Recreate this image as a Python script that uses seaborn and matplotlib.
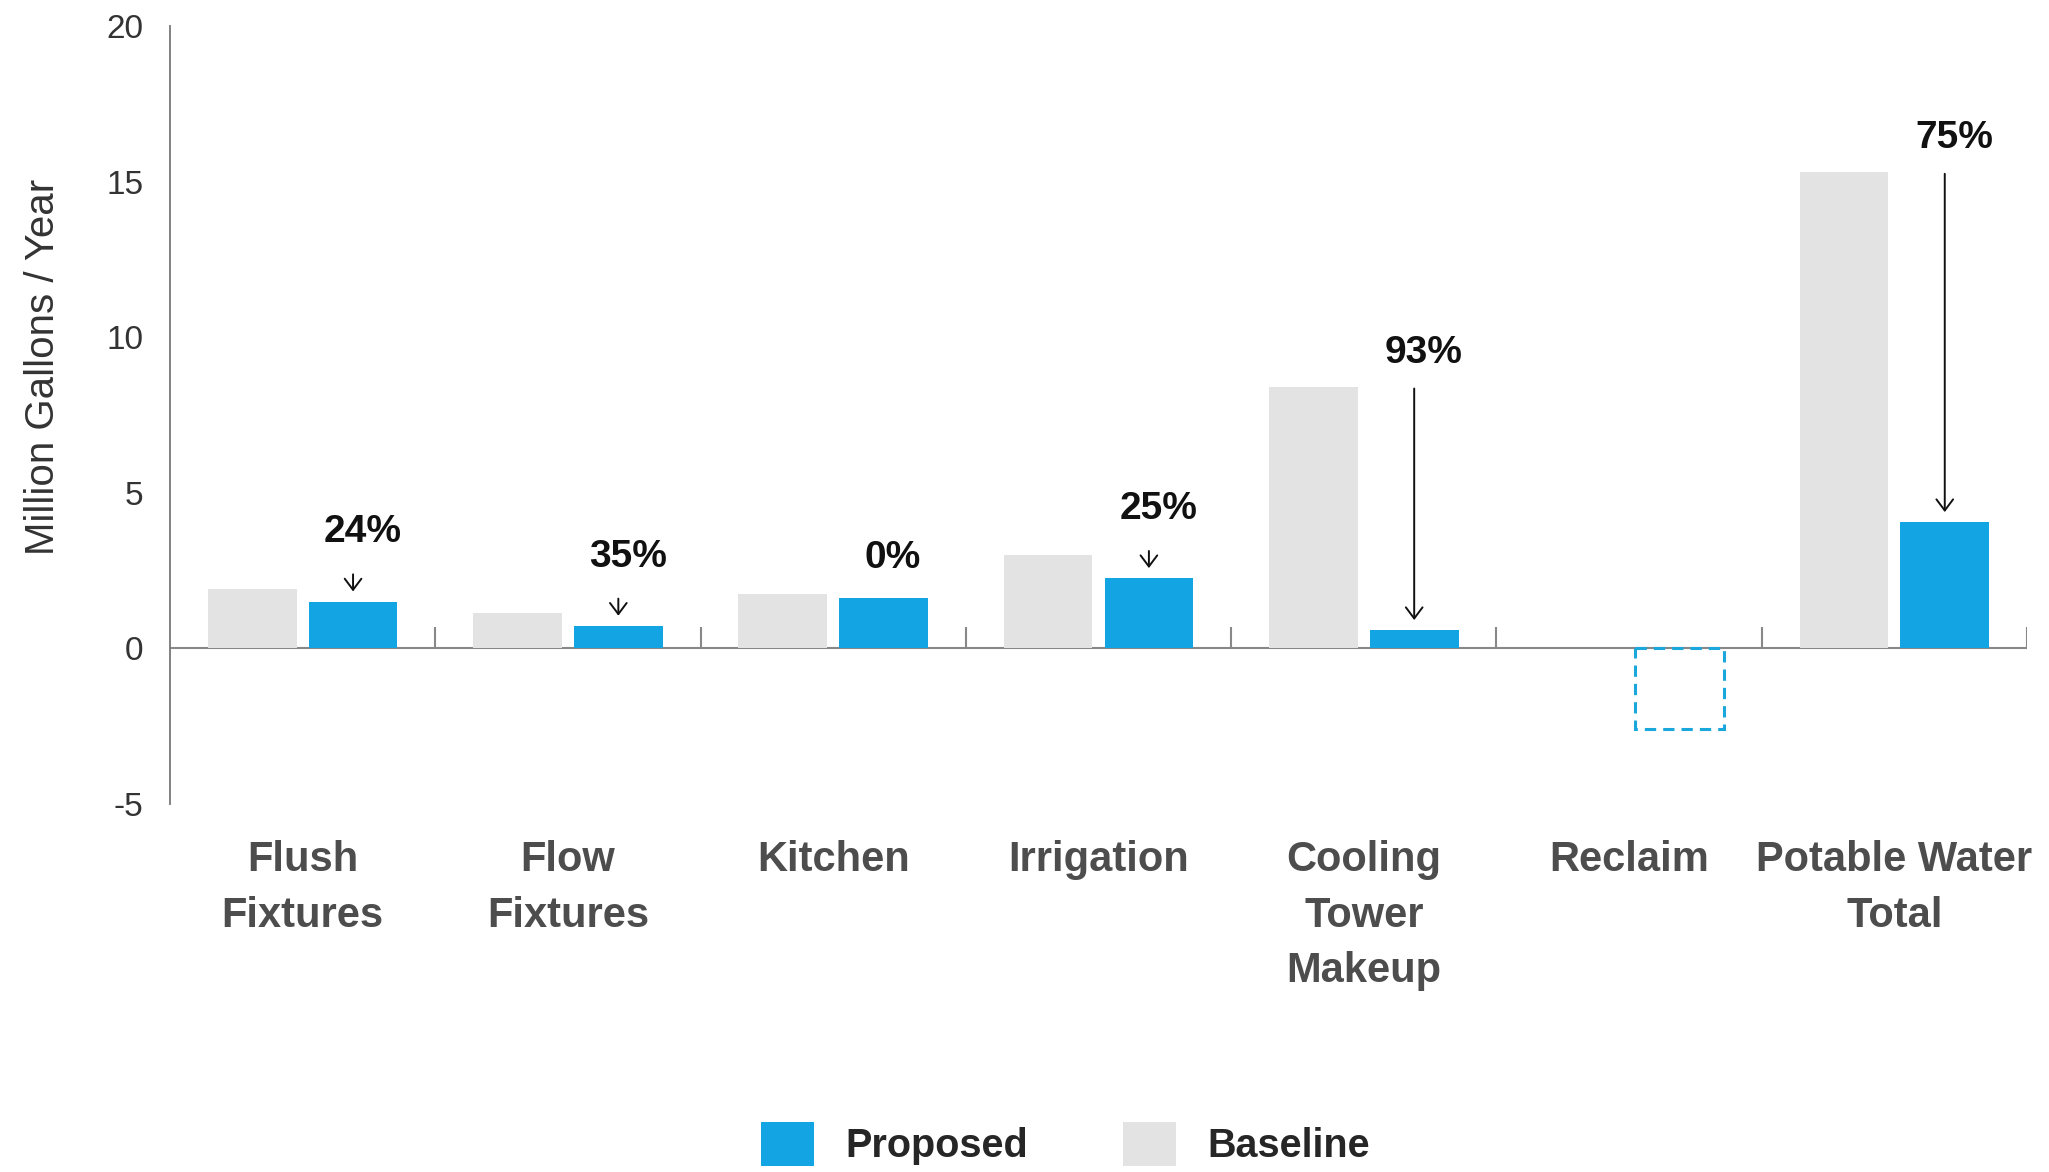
import matplotlib
matplotlib.use("Agg")
import matplotlib.pyplot as plt
import seaborn as sns
import pandas as pd
from matplotlib.patches import Patch

# ---- data -------------------------------------------------------------
categories = ["Flush\nFixtures", "Flow\nFixtures", "Kitchen", "Irrigation",
              "Cooling\nTower\nMakeup", "Reclaim", "Potable Water\nTotal"]
baseline = [1.9, 1.15, 1.75, 3.0, 8.4, 0.0, 15.3]
proposed = [1.5, 0.72, 1.63, 2.25, 0.58, -2.6, 4.05]
reduction_labels = ["24%", "35%", "0%", "25%", "93%", None, "75%"]
y_ticks = [-5, 0, 5, 10, 15, 20]
series = ["Baseline", "Proposed"]
legend_order = ["Proposed", "Baseline"]

BLUE = "#13a5e3"
GRAY = "#e3e3e3"
DASH_BLUE = "#1aa8dc"

sns.set_theme(style="white")
plt.rcParams["font.family"] = ["Liberation Sans", "DejaVu Sans"]
plt.rcParams["axes.unicode_minus"] = False

df = pd.DataFrame({
    "category": categories * 2,
    "value": baseline + proposed,
    "series": ["Baseline"] * len(categories) + ["Proposed"] * len(categories),
})

fig = plt.figure(figsize=(20.49, 11.72), dpi=100)
ax = fig.add_axes([170 / 2049, 368 / 1172, 1857 / 2049, 778 / 1172])

sns.barplot(data=df, x="category", y="value", hue="series", hue_order=series,
            order=categories, palette={"Baseline": GRAY, "Proposed": BLUE},
            width=0.76, gap=0.12, saturation=1, errorbar=None, legend=False,
            linewidth=0, ax=ax, zorder=2)

# reclaim bar drawn as dashed outline
rec = ax.containers[1][categories.index("Reclaim")]
rec.set_fill(False)
rec.set_edgecolor(DASH_BLUE)
rec.set_linewidth(2.2)
rec.set_linestyle((0, (3.7, 2.3)))

n = len(categories)
ax.set_xlim(-0.5, n - 0.5)
ax.set_ylim(-5, 20)
ax.set_yticks(y_ticks)
sns.despine(ax=ax, top=True, right=True, bottom=True)
ax.spines["left"].set_color("#777777")
ax.spines["left"].set_linewidth(1.3)

ax.axhline(0, color="#888888", lw=1.5, zorder=1)
ax.vlines([i + 0.5 for i in range(n)], 0, 0.7, color="#888888", lw=1.5, zorder=1)

ax.tick_params(axis="y", direction="in", length=33, width=1.1, color="#777777",
               labelsize=24, labelcolor="#333333", pad=19)
ax.tick_params(axis="x", length=0, pad=26, labelsize=30, labelcolor="#4d4d4d")
for lbl in ax.get_xticklabels():
    lbl.set_fontweight("bold")
    lbl.set_linespacing(1.5)

ax.set_xlabel("")
ax.set_ylabel("Million Gallons / Year", fontsize=29, color="#333333")
ax.yaxis.set_label_coords(-0.058, 0.562)

# ---- reduction annotations --------------------------------------------
for i, lab in enumerate(reduction_labels):
    if lab is None:
        continue
    bar = ax.containers[1][i]
    xc = bar.get_x() + bar.get_width() / 2
    p, b = proposed[i], baseline[i]
    end = p + 0.33
    if lab == "0%":
        ty = p + 1.27
        start = None
    elif b - p > 3:
        ty = b + 1.1
        start = ty - 1.15
    else:
        start = end + 0.55
        ty = start + 1.35
    if start is not None:
        ax.annotate("", xy=(xc, end), xytext=(xc, start),
                    arrowprops=dict(arrowstyle="->,head_length=0.4,head_width=0.3",
                                    color="#111111", lw=1.4, mutation_scale=20,
                                    shrinkA=0, shrinkB=0))
    ax.text(xc + 0.035, ty, lab, ha="center", va="center", fontsize=28,
            fontweight="bold", color="#111111")

# ---- legend -----------------------------------------------------------
colors = {"Baseline": GRAY, "Proposed": BLUE}
handles = [Patch(facecolor=colors[s], edgecolor="none", label=s) for s in legend_order]
fig.legend(handles=handles, loc="center", bbox_to_anchor=(0.52, 0.024), ncol=2,
           frameon=False, prop={"weight": "bold", "size": 28.5},
           handlelength=1.33, handleheight=1.33, handletextpad=0.8,
           columnspacing=2.4, borderpad=0)

fig.savefig("out.png", dpi=100)
